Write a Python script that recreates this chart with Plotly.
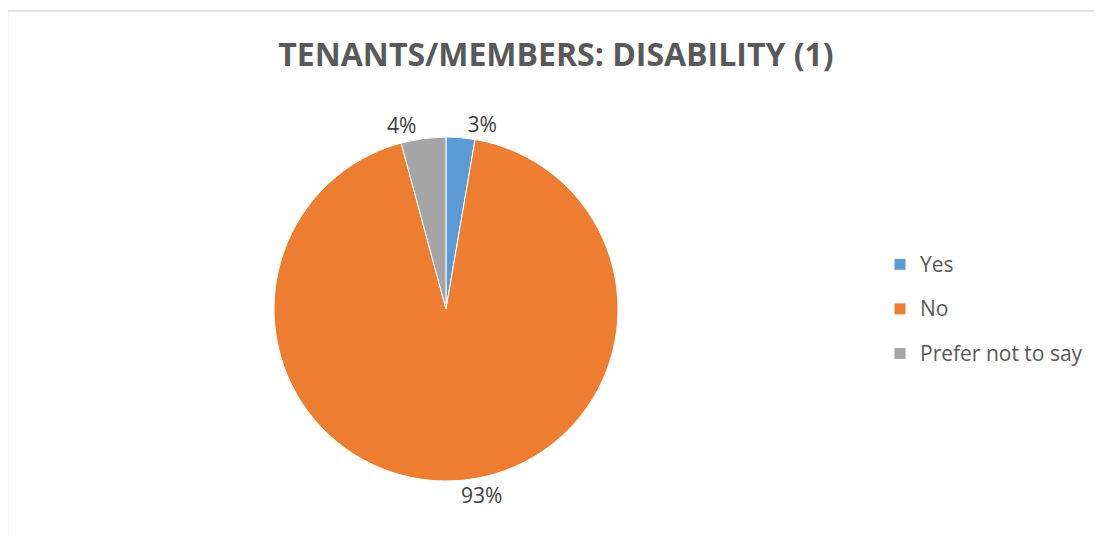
import plotly.graph_objects as go

categories = ["Yes", "No", "Prefer not to say"]
values = [2.7, 93.1, 4.2]
colors = ["#5B9BD5", "#ED7D31", "#A5A5A5"]
title_text = "TENANTS/MEMBERS: DISABILITY (1)"

# page body has an 8px margin, so figure px = reference px - 8
OFF = 8
W, H = 1102 - OFF, 536 - OFF
cx, cy, r = 446 - OFF, 309 - OFF, 172

legend_labels = [f"<span style='font-size:21px;baseline-shift:5px'>{c}</span>" for c in categories]

fig = go.Figure(go.Pie(
    labels=legend_labels,
    values=values,
    sort=False,
    direction="clockwise",
    rotation=0,
    marker=dict(colors=colors, line=dict(color="white", width=1)),
    textinfo="percent",
    texttemplate="%{percent:.0%}",
    textposition="outside",
    outsidetextfont=dict(family="Open Sans", size=21, color="#404040"),
    domain=dict(x=[(cx - r) / W, (cx + r) / W], y=[(H - cy - r) / H, (H - cy + r) / H]),
    hovertemplate="%{label}: %{percent}<extra></extra>",
))

fig.update_layout(
    width=W, height=H,
    margin=dict(l=0, r=0, t=0, b=0),
    paper_bgcolor="white",
    plot_bgcolor="white",
    title=dict(text=f"<b>{title_text}</b>", x=(556 - OFF) / W, xanchor="center",
               y=1 - (55 - OFF) / H, yanchor="middle",
               font=dict(family="Open Sans", size=32, color="#595959")),
    legend=dict(x=(880 - OFF) / W, xanchor="left", y=1 - (309 - OFF) / H, yanchor="middle",
                font=dict(family="Open Sans", size=32, color="#595959"),
                bgcolor="rgba(0,0,0,0)"),
    shapes=[dict(type="rect", xref="paper", yref="paper",
                 x0=-0.5 / W, x1=1.05, y0=-0.05, y1=1 - (11 - OFF) / H,
                 line=dict(color="#D9D9D9", width=1.5))],
)

fig.write_html("out.html")
